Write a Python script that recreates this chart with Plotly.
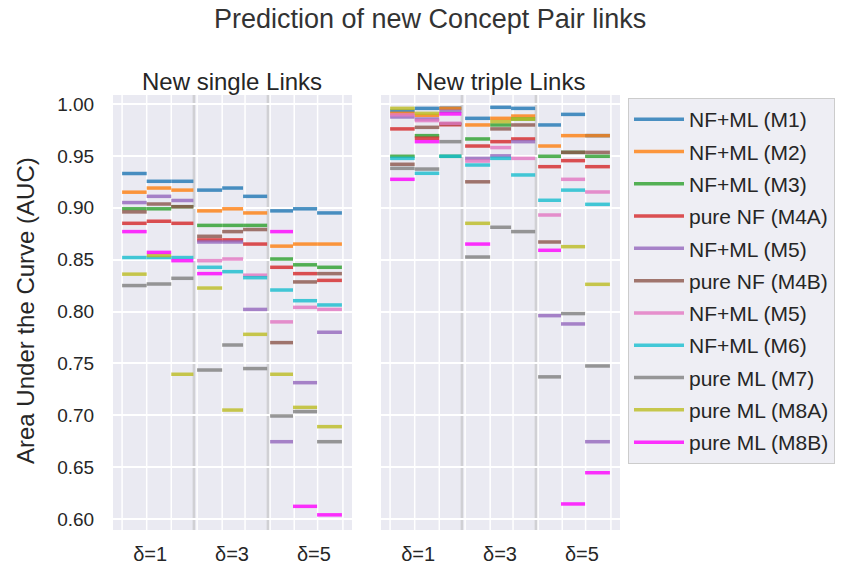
import plotly.graph_objects as go

# ---------------- data ----------------
model_names = ["NF+ML (M1)", "NF+ML (M2)", "NF+ML (M3)", "pure NF (M4A)", "NF+ML (M5)",
               "pure NF (M4B)", "NF+ML (M5)", "NF+ML (M6)", "pure ML (M7)", "pure ML (M8A)",
               "pure ML (M8B)"]
delta_labels = ["δ=1", "δ=3", "δ=5"]
panel_titles = ["New single Links", "New triple Links"]

# each list: delta=1 (3 columns), delta=3 (3 columns), delta=5 (3 columns)
single_M1 = [0.933, 0.9255, 0.9255, 0.917, 0.919, 0.911, 0.897, 0.899, 0.895]
single_M2 = [0.915, 0.919, 0.917, 0.897, 0.899, 0.895, 0.863, 0.865, 0.865]
single_M3 = [0.899, 0.899, 0.901, 0.883, 0.883, 0.883, 0.8506, 0.845, 0.8426]
single_M4A = [0.885, 0.887, 0.885, 0.869, 0.869, 0.865, 0.8426, 0.8365, 0.830]
single_M5a = [0.905, 0.911, 0.907, 0.867, 0.867, 0.802, 0.6745, 0.7314, 0.780]
single_M4B = [0.896, 0.9036, 0.901, 0.8725, 0.877, 0.879, 0.770, 0.8285, 0.8365]
single_M5b = [None, None, None, 0.849, 0.8506, 0.835, 0.790, 0.804, 0.802]
single_M6 = [0.852, 0.852, 0.852, 0.8426, 0.8384, 0.8326, 0.8207, 0.8104, 0.8063]
single_M7 = [0.825, 0.8265, 0.832, 0.7436, 0.7677, 0.745, 0.6993, 0.7035, 0.6745]
single_M8A = [0.836, 0.854, 0.7395, 0.8226, 0.705, 0.778, 0.7395, 0.7076, 0.689]
single_M8B = [0.877, 0.857, 0.849, 0.8365, None, None, 0.877, 0.6122, 0.604]

triple_M1 = [0.9933, 0.9958, 0.996, 0.9862, 0.9968, 0.9958, 0.9798, 0.990, 0.9695]
triple_M2 = [0.991, 0.989, 0.9958, 0.9798, 0.9862, 0.9884, 0.9595, 0.9695, 0.9695]
triple_M3 = [0.9496, 0.9695, 0.9496, 0.9663, 0.9798, 0.9855, 0.9496, 0.9534, 0.9496]
triple_M4A = [0.976, 0.967, 0.980, 0.9595, 0.9637, 0.9663, 0.9396, 0.9454, 0.9396]
triple_M5a = [0.9875, 0.9855, 0.993, 0.9476, 0.950, 0.9637, 0.796, 0.788, 0.6745]
triple_M4B = [0.9419, 0.9775, 0.981, 0.925, 0.976, 0.9798, 0.867, 0.9534, 0.9534]
triple_M5b = [0.9895, 0.984, 0.9814, 0.945, 0.958, 0.9476, 0.893, 0.9274, 0.9152]
triple_M6 = [0.9476, 0.9332, 0.9496, 0.9412, 0.9476, 0.9316, 0.9072, 0.917, 0.9033]
triple_M7 = [0.938, 0.9373, 0.9637, 0.8525, 0.8812, 0.877, 0.737, 0.798, 0.7475]
triple_M8A = [0.9958, 0.991, None, 0.885, 0.983, 0.9855, None, 0.8625, 0.8262]
triple_M8B = [0.9274, 0.9637, 0.9904, 0.865, None, None, 0.859, 0.6145, 0.6446]

single_data = [single_M1, single_M2, single_M3, single_M4A, single_M5a, single_M4B,
               single_M5b, single_M6, single_M7, single_M8A, single_M8B]
triple_data = [triple_M1, triple_M2, triple_M3, triple_M4A, triple_M5a, triple_M4B,
               triple_M5b, triple_M6, triple_M7, triple_M8A, triple_M8B]

# ---------------- style / layout ----------------
colors = ["#1f77b4", "#ff7f0e", "#2ca02c", "#d62728", "#9467bd", "#8c564b",
          "#e377c2", "#17becf", "#7f7f7f", "#bcbd22", "#ff00ff"]
seg_edges = [(0, 1), (1, 2), (2, 2.9), (3.05, 4.07), (4.07, 4.92), (4.92, 5.9),
             (6.02, 6.95), (6.95, 7.93), (7.93, 8.94)]
label_pos = [1.14, 4.47, 7.8]
vgrid = [0, 1, 2, 3.05, 4.07, 5, 6.02, 7, 7.95, 8.98]
separators = [2.92, 5.93]
FONT = "Liberation Sans, Arial, sans-serif"
TXT = "#262626"
W, H = 860, 569


def xp(px):
    return px / W


def yp(py):
    return 1 - py / H


fig = go.Figure()

for p, data in enumerate([single_data, triple_data]):
    xa = "x" if p == 0 else "x2"
    ya = "y" if p == 0 else "y2"
    for m, vals in enumerate(data):
        xs, ys = [], []
        for (x0, x1), v in zip(seg_edges, vals):
            if v is None:
                continue
            xs += [x0, x1, None]
            ys += [v, v, None]
        fig.add_trace(go.Scatter(
            x=xs, y=ys, mode="lines", xaxis=xa, yaxis=ya,
            line=dict(color=colors[m], width=3.5), opacity=0.8,
            name=model_names[m], legendgroup=f"g{m}", showlegend=(p == 0),
            hoverinfo="skip"))

yrange = [1 - 426 / 1037.5, 1 + 9 / 1037.5]
xrange = [-0.37, 9.35]
ytop, ybot = yp(95), yp(530)

common_x = dict(range=xrange, showgrid=False, zeroline=False, tickvals=label_pos,
                ticktext=delta_labels, ticks="outside", ticklen=6,
                tickcolor="rgba(0,0,0,0)", tickfont=dict(size=20, color=TXT, family=FONT),
                showline=False)
common_y = dict(range=yrange, dtick=0.05, tick0=0.6, showgrid=True, gridcolor="white",
                gridwidth=1.5, zeroline=False, showline=False)

fig.update_layout(
    width=W, height=H,
    margin=dict(l=0, r=0, t=0, b=0),
    paper_bgcolor="white", plot_bgcolor="#eaeaf2",
    font=dict(family=FONT, color=TXT),
    xaxis=dict(domain=[xp(113), xp(352)], anchor="y", **common_x),
    xaxis2=dict(domain=[xp(381), xp(620)], anchor="y2", **common_x),
    yaxis=dict(domain=[ybot, ytop], anchor="x", tickformat=".2f",
               tickfont=dict(size=19, color=TXT, family=FONT),
               ticks="outside", ticklen=14, tickcolor="rgba(0,0,0,0)", **common_y),
    yaxis2=dict(domain=[ybot, ytop], anchor="x2", showticklabels=False, **common_y),
    showlegend=True,
    legend=dict(x=xp(628), y=yp(98), xanchor="left", yanchor="top",
                bgcolor="#eeeef4", bordercolor="#cccccc", borderwidth=1,
                font=dict(size=21, color=TXT, family=FONT),
                traceorder="grouped", tracegroupgap=2, itemwidth=50),
)

shapes = []
for xa in ["x", "x2"]:
    yref = "y" if xa == "x" else "y2"
    for gx in vgrid:
        shapes.append(dict(type="line", xref=xa, yref=f"{yref} domain", x0=gx, x1=gx,
                           y0=0, y1=1, line=dict(color="white", width=1.5), layer="below"))
    for sx in separators:
        shapes.append(dict(type="line", xref=xa, yref=f"{yref} domain", x0=sx, x1=sx,
                           y0=0, y1=1, line=dict(color="#d0d0d4", width=2.5), layer="below"))
fig.update_layout(shapes=shapes)

annotations = [
    dict(text="Prediction of new Concept Pair links", x=xp(430), y=yp(19), xref="paper",
         yref="paper", showarrow=False, font=dict(size=27, color="#333333", family=FONT),
         xanchor="center", yanchor="middle"),
    dict(text=panel_titles[0], x=xp(232), y=yp(82), xref="paper", yref="paper",
         showarrow=False, font=dict(size=24, color=TXT, family=FONT),
         xanchor="center", yanchor="middle"),
    dict(text=panel_titles[1], x=xp(500), y=yp(82), xref="paper", yref="paper",
         showarrow=False, font=dict(size=24, color=TXT, family=FONT),
         xanchor="center", yanchor="middle"),
    dict(text="Area Under the Curve (AUC)", x=xp(25), y=yp(311), xref="paper",
         yref="paper", showarrow=False, textangle=-90,
         font=dict(size=24, color=TXT, family=FONT), xanchor="center", yanchor="middle"),
]
fig.update_layout(annotations=annotations)

# remove the default 8px page margin so the figure sits at the window origin
fig.write_html("out.html", config={"displayModeBar": False},
               post_script="document.body.style.margin='0px';")
